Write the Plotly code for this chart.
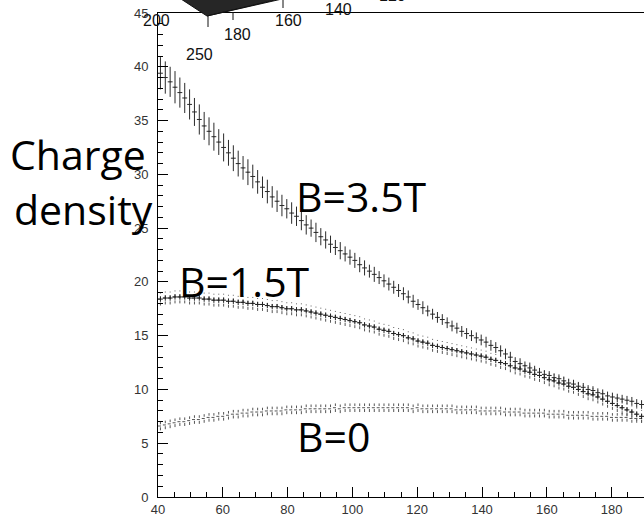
import plotly.graph_objects as go

# ---------------- data ----------------
X_MIN = 40.0          # histogram lower edge
BIN_W = 1.5           # bin width
N_BINS = 100

b35_vals = [39.4, 39.0, 38.6, 38.1, 37.6, 37.1, 36.5, 35.8, 35.1, 34.5,
            34.0, 33.5, 33.0, 32.5, 32.0, 31.5, 31.0, 30.6, 30.2, 29.8,
            29.3, 28.8, 28.4, 27.9, 27.5, 27.1, 26.8, 26.4, 26.1, 25.7,
            25.3, 25.0, 24.6, 24.2, 23.9, 23.5, 23.2, 22.9, 22.6, 22.3,
            22.0, 21.6, 21.3, 21.0, 20.7, 20.4, 20.1, 19.8, 19.5, 19.2,
            18.9, 18.6, 18.2, 17.9, 17.6, 17.3, 17.0, 16.7, 16.5, 16.2,
            15.9, 15.7, 15.4, 15.2, 15.0, 14.8, 14.6, 14.4, 14.1, 13.9,
            13.6, 13.3, 13.0, 12.6, 12.4, 12.2, 12.0, 11.8, 11.6, 11.4,
            11.3, 11.1, 11.0, 10.8, 10.6, 10.5, 10.3, 10.2, 10.0, 9.9,
            9.7, 9.6, 9.4, 9.3, 9.2, 9.1, 9.0, 8.9, 8.7, 8.6]

b35_errs = [1.5, 1.5, 1.4, 1.5, 1.4, 1.4, 1.4, 1.3, 1.4, 1.3,
            1.3, 1.3, 1.2, 1.3, 1.2, 1.2, 1.2, 1.1, 1.2, 1.1,
            1.1, 1.0, 1.1, 1.0, 1.0, 1.0, 0.9, 1.0, 0.9, 0.9,
            0.9, 0.8, 0.9, 0.8, 0.8, 0.8, 0.7, 0.8, 0.7, 0.7,
            0.7, 0.7, 0.7, 0.6, 0.7, 0.6, 0.6, 0.6, 0.6, 0.6,
            0.6, 0.6, 0.6, 0.5, 0.6, 0.5, 0.5, 0.5, 0.5, 0.5,
            0.5, 0.5, 0.5, 0.5, 0.5, 0.5, 0.5, 0.5, 0.5, 0.5,
            0.5, 0.5, 0.5, 0.4, 0.5, 0.4, 0.5, 0.4, 0.4, 0.4,
            0.4, 0.4, 0.4, 0.4, 0.4, 0.4, 0.4, 0.4, 0.4, 0.4,
            0.4, 0.4, 0.4, 0.4, 0.4, 0.4, 0.4, 0.4, 0.4, 0.4]

b15_vals = [18.4, 18.5, 18.5, 18.6, 18.6, 18.6, 18.5, 18.5, 18.5, 18.4,
            18.4, 18.3, 18.3, 18.3, 18.2, 18.2, 18.1, 18.1, 18.0, 18.0,
            17.9, 17.9, 17.8, 17.7, 17.7, 17.6, 17.5, 17.5, 17.4, 17.4,
            17.3, 17.2, 17.1, 17.0, 16.9, 16.8, 16.7, 16.6, 16.5, 16.4,
            16.3, 16.2, 16.0, 15.9, 15.8, 15.6, 15.5, 15.4, 15.2, 15.1,
            15.0, 14.8, 14.7, 14.5, 14.4, 14.3, 14.1, 14.0, 13.9, 13.8,
            13.7, 13.6, 13.5, 13.4, 13.3, 13.2, 13.1, 13.0, 12.8, 12.7,
            12.5, 12.4, 12.2, 12.0, 11.9, 11.7, 11.6, 11.4, 11.3, 11.1,
            10.9, 10.8, 10.6, 10.5, 10.3, 10.2, 10.0, 9.8, 9.6, 9.5,
            9.3, 9.1, 8.9, 8.7, 8.5, 8.3, 8.1, 7.9, 7.7, 7.5]
b15_err_solid = 0.25
b15_err_dotted = 0.6

b0_vals = [6.6, 6.7, 6.8, 6.9, 7.0, 7.0, 7.1, 7.2, 7.2, 7.3,
           7.4, 7.4, 7.5, 7.5, 7.6, 7.7, 7.7, 7.8, 7.8, 7.9,
           7.9, 7.9, 8.0, 8.0, 8.0, 8.0, 8.1, 8.1, 8.1, 8.1,
           8.2, 8.2, 8.2, 8.2, 8.2, 8.2, 8.3, 8.2, 8.3, 8.3,
           8.3, 8.3, 8.3, 8.3, 8.3, 8.3, 8.3, 8.3, 8.3, 8.3,
           8.3, 8.3, 8.2, 8.3, 8.2, 8.2, 8.2, 8.2, 8.2, 8.2,
           8.2, 8.1, 8.1, 8.1, 8.1, 8.1, 8.0, 8.0, 8.0, 8.0,
           8.0, 7.9, 7.9, 7.9, 7.9, 7.8, 7.8, 7.8, 7.8, 7.8,
           7.7, 7.7, 7.7, 7.7, 7.6, 7.6, 7.6, 7.6, 7.6, 7.5,
           7.5, 7.5, 7.5, 7.4, 7.4, 7.4, 7.4, 7.3, 7.3, 7.3]
b0_err = 0.4

x_tick_vals = [40, 60, 80, 100, 120, 140, 160, 180]
y_tick_vals = [0, 5, 10, 15, 20, 25, 30, 35, 40, 45]

labels_3d = ["200", "180", "160", "140", "120", "250"]

# bin centres of the histogram
x_centres = [X_MIN + BIN_W * (i + 0.5) for i in range(N_BINS)]
half = BIN_W / 2


def dotted_bars(xs, ys, err):
    vx, vy = [], []
    for x, y in zip(xs, ys):
        vx += [x, x, None]
        vy += [y - err, y + err, None]
        vx += [x - half, x + half, None]
        vy += [y, y, None]
    return vx, vy


fig = go.Figure()

# B=0 (dotted crosses)
vx, vy = dotted_bars(x_centres, b0_vals, b0_err)
fig.add_trace(go.Scatter(x=vx, y=vy, mode="lines", hoverinfo="skip",
                         line=dict(color="#555555", width=1, dash="dot")))

# B=1.5T dotted (larger errors)
vx, vy = dotted_bars(x_centres, b15_vals, b15_err_dotted)
fig.add_trace(go.Scatter(x=vx, y=vy, mode="lines", hoverinfo="skip",
                         line=dict(color="#555555", width=1, dash="dot")))

# B=1.5T solid
fig.add_trace(go.Scatter(
    x=x_centres, y=b15_vals, mode="markers",
    marker=dict(size=1, color="#222222"),
    error_y=dict(type="constant", value=b15_err_solid, thickness=1, width=0, color="#222222"),
    error_x=dict(type="constant", value=half, thickness=1, width=0, color="#222222"),
))

# B=3.5T
fig.add_trace(go.Scatter(
    x=x_centres, y=b35_vals, mode="markers",
    marker=dict(size=1, color="#2a2a2a"),
    error_y=dict(type="data", array=b35_errs, thickness=1, width=0, color="#2a2a2a"),
    error_x=dict(type="constant", value=half, thickness=1, width=0, color="#2a2a2a"),
))

# ---------------- layout ----------------
L, T, W, H = 158, 13, 486, 484


def px(xp):
    return (xp - L) / W


def py(yp):
    return (T + H - yp) / H


big_font = dict(family="Open Sans", size=41, color="black")
ann = []
ann.append(dict(text="B=3.5T", x=px(361), y=py(196), xref="paper", yref="paper",
                showarrow=False, xanchor="center", yanchor="middle", font=big_font))
ann.append(dict(text="B=1.5T", x=px(244), y=py(281), xref="paper", yref="paper",
                showarrow=False, xanchor="center", yanchor="middle", font=big_font))
ann.append(dict(text="B=0", x=px(333), y=py(436), xref="paper", yref="paper",
                showarrow=False, xanchor="center", yanchor="middle", font=big_font))
ann.append(dict(text="Charge", x=px(78), y=py(154), xref="paper", yref="paper",
                showarrow=False, xanchor="center", yanchor="middle", font=big_font))
ann.append(dict(text="density", x=px(83), y=py(209), xref="paper", yref="paper",
                showarrow=False, xanchor="center", yanchor="middle", font=big_font))

small3d = dict(family="Liberation Sans", size=16, color="#111111")
pos3d = [(156, 21), (237, 34), (288, 21), (338, 9), (392, -4), (199, 54)]
for t, (a, b) in zip(labels_3d, pos3d):
    ann.append(dict(text=t, x=px(a), y=py(b), xref="paper", yref="paper",
                    showarrow=False, xanchor="center", yanchor="middle", font=small3d))

shapes = []
# dark surface remnant of the 3D plot
shapes.append(dict(type="path", xref="paper", yref="paper",
                   path="M {} {} L {} {} L {} {} Z".format(px(181), py(-1), px(207), py(16), px(279), py(-1)),
                   fillcolor="#262626", line=dict(color="#111111", width=1)))
for (x0, y0, x1, y1) in [(208, 16, 208, 27), (233, 12, 233, 20), (283, -1, 283, 8), (207, 16, 282, -1)]:
    shapes.append(dict(type="line", xref="paper", yref="paper",
                       x0=px(x0), y0=py(y0), x1=px(x1), y1=py(y1),
                       line=dict(color="#111111", width=1)))

tick_font = dict(family="Liberation Sans", size=13, color="#333333")
fig.update_layout(
    width=644, height=528, autosize=False,
    margin=dict(l=L, r=644 - L - W, t=T, b=528 - T - H, pad=0),
    plot_bgcolor="white", paper_bgcolor="white",
    showlegend=False,
    annotations=ann, shapes=shapes,
    xaxis=dict(range=[40, 190.0], tickvals=x_tick_vals, ticks="inside", ticklen=10,
               tickcolor="black", showline=True, linecolor="black", linewidth=1, mirror=True,
               showgrid=False, zeroline=False, tickfont=tick_font,
               minor=dict(dtick=5, ticks="inside", ticklen=5, tickcolor="black", showgrid=False)),
    yaxis=dict(range=[0, 45], tickvals=y_tick_vals, ticks="inside", ticklen=10,
               tickcolor="black", showline=True, linecolor="black", linewidth=1,
               showgrid=False, zeroline=False, tickfont=tick_font, ticklabelstandoff=6,
               minor=dict(dtick=1, ticks="inside", ticklen=5, tickcolor="black", showgrid=False)),
)

fig.write_html("out.html", config={"displayModeBar": False},
               post_script="document.body.style.margin='0';")
